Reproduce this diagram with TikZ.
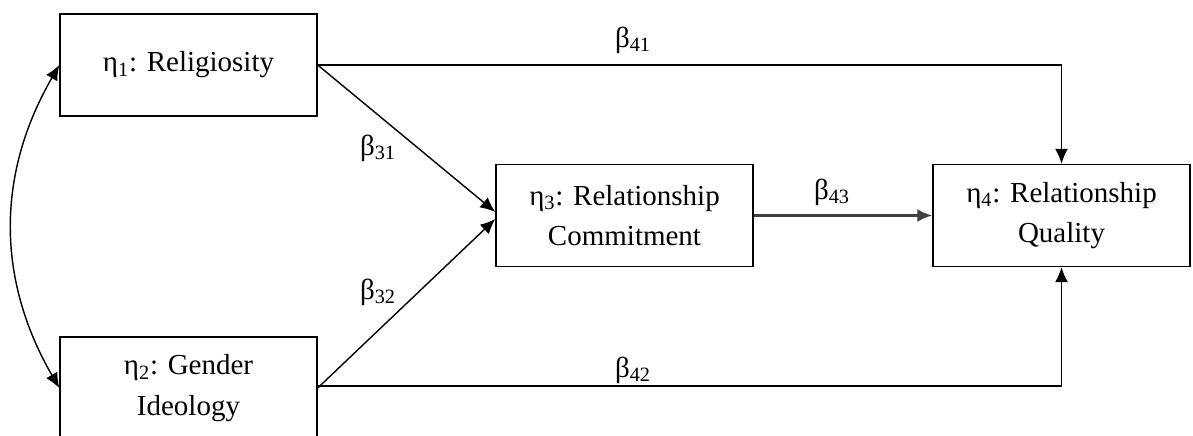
\documentclass[tikz,border=0pt]{standalone}
\usepackage{fontspec}
\setmainfont{Liberation Serif}
\usepackage{tikz}
\usetikzlibrary{arrows.meta}
\tikzset{>={Latex[width=2.6mm,length=3mm]}}
\tikzset{var/.style={draw=black, line width=0.8pt, minimum width=5.14cm, minimum height=2.04cm, align=center, inner sep=1pt, font=\fontsize{16.5}{23}\selectfont}}
\tikzset{coef/.style={font=\fontsize{16.5}{20}\selectfont}}

\begin{document}
\begin{tikzpicture}
  \useasboundingbox (0,0) rectangle (23.86,-8.72);

  \node[var] (ETA1) at (3.77,-1.30) {η\textsubscript{1}: Religiosity};
  \node[var] (ETA2) at (3.77,-7.76) {η\textsubscript{2}: Gender\\Ideology};
  \node[var] (ETA3) at (12.49,-4.31) {η\textsubscript{3}: Relationship\\Commitment};
  \node[var] (ETA4) at (21.23,-4.31) {η\textsubscript{4}: Relationship\\Quality};

  \draw[->, line width=0.8pt] (ETA1.east) -- ([yshift=2pt]ETA3.west);
  \draw[->, line width=0.8pt] (ETA2.east) -- ([yshift=-2pt]ETA3.west);
  \draw[->, line width=1.5pt, draw=black!75] (ETA3) -- (ETA4);
  \draw[->, line width=0.8pt] (ETA1.east) -| (ETA4.north);
  \draw[->, line width=0.8pt] ([yshift=0.04cm]ETA2.east) -| (ETA4.south);
  \draw[<->, line width=0.8pt] (ETA1.west) to[bend right=30] (ETA2.west);

  \node[coef] (B41) at (12.66,-0.80) {β\textsubscript{41}};
  \node[coef] (B31) at (7.56,-2.96) {β\textsubscript{31}};
  \node[coef] (B43) at (16.64,-3.84) {β\textsubscript{43}};
  \node[coef] (B32) at (7.56,-5.84) {β\textsubscript{32}};
  \node[coef] (B42) at (12.66,-7.40) {β\textsubscript{42}};
\end{tikzpicture}
\end{document}
